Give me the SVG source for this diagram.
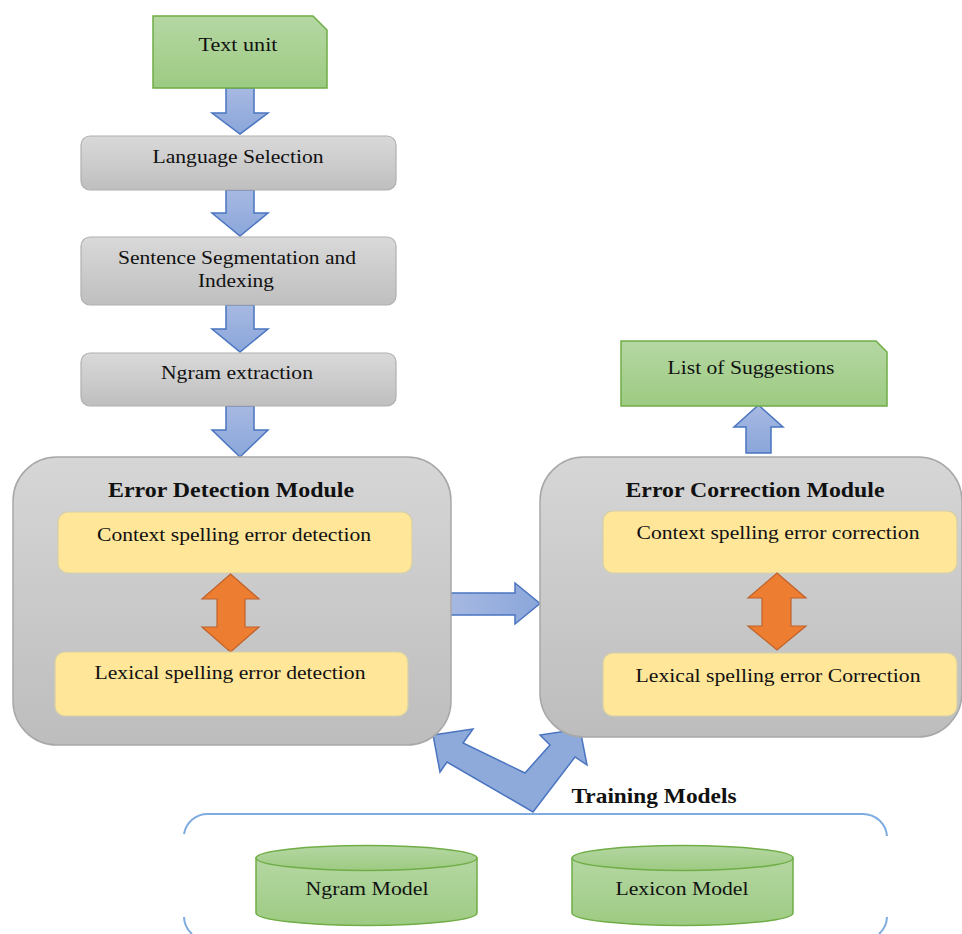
<svg xmlns="http://www.w3.org/2000/svg" width="962" height="934" viewBox="0 0 962 934">
<defs>
<linearGradient id="gGreen" x1="0" y1="0" x2="0" y2="1"><stop offset="0" stop-color="#b5d7a3"/><stop offset="1" stop-color="#9dcb82"/></linearGradient>
<linearGradient id="gGray" x1="0" y1="0" x2="0" y2="1"><stop offset="0" stop-color="#d9d9d9"/><stop offset="1" stop-color="#bfbfbf"/></linearGradient>
<linearGradient id="gMod" x1="0" y1="0" x2="0" y2="1"><stop offset="0" stop-color="#d6d6d6"/><stop offset="1" stop-color="#bdbdbd"/></linearGradient>
<linearGradient id="gBlueV" x1="0" y1="0" x2="0" y2="1"><stop offset="0" stop-color="#a7b9e2"/><stop offset="1" stop-color="#8aa6da"/></linearGradient>
<linearGradient id="gBlueH" x1="0" y1="0" x2="1" y2="0"><stop offset="0" stop-color="#a7b9e2"/><stop offset="1" stop-color="#8aa6da"/></linearGradient>
</defs>
<style>
.green{fill:url(#gGreen);stroke:#70ad47;stroke-width:1.5}
.gray{fill:url(#gGray);stroke:#b0b0b0;stroke-width:1.2}
.mod{fill:url(#gMod);stroke:#a8a8a8;stroke-width:1.5}
.yel{fill:#ffe699;stroke:#d6cfa8;stroke-width:1.2}
.blue{stroke:#4a74c0;stroke-width:1.5;stroke-linejoin:miter}
.orange{fill:#ed7d31;stroke:#c0622a;stroke-width:1.2}
.cont{fill:none;stroke:#7eabe0;stroke-width:2}
text{font-family:"Liberation Serif","Times New Roman",serif;fill:#111;text-anchor:middle}
.t{font-size:19px}
.b{font-size:21px;font-weight:bold}
</style>

<g id="connectors">
<polygon class="blue" fill="url(#gBlueV)" points="226,88 254,88 254,113 268,113 240,134 212,113 226,113"/>
<polygon class="blue" fill="url(#gBlueV)" points="226,190 254,190 254,213 268,213 240,236 212,213 226,213"/>
<polygon class="blue" fill="url(#gBlueV)" points="226,305 254,305 254,329 268,329 240,352 212,329 226,329"/>
<polygon class="blue" fill="url(#gBlueV)" points="226,406 254,406 254,430 268,430 240,457 212,430 226,430"/>
<polygon class="blue" fill="url(#gBlueV)" points="746,453 771,453 771,427 783,427 758.5,405 734,427 746,427"/>
<polygon class="blue" fill="url(#gBlueH)" points="448,593 515,593 515,583 540,603.5 515,624 515,615 448,615"/>
<polygon class="blue" fill="#8eaadb" points="433,735 473,729 463,743 525,773 550,745 540,735 580,729 587,765 575,757 533,812 447,762 440,772"/>
</g>

<g id="text-unit">
<polygon class="green" points="153,16 313,16 327,30 327,88 153,88"/>
<text class="t" x="238" y="51" textLength="79" lengthAdjust="spacingAndGlyphs">Text unit</text>
</g>

<g id="language-selection">
<rect class="gray" x="81" y="136" width="315" height="54" rx="9"/>
<text class="t" x="238" y="163" textLength="171" lengthAdjust="spacingAndGlyphs">Language Selection</text>
</g>

<g id="sentence-segmentation">
<rect class="gray" x="81" y="237" width="315" height="68" rx="9"/>
<text class="t" x="237" y="264" textLength="238" lengthAdjust="spacingAndGlyphs">Sentence Segmentation and</text>
<text class="t" x="236" y="287" textLength="76" lengthAdjust="spacingAndGlyphs">Indexing</text>
</g>

<g id="ngram-extraction">
<rect class="gray" x="81" y="353" width="315" height="53" rx="9"/>
<text class="t" x="237" y="379" textLength="152" lengthAdjust="spacingAndGlyphs">Ngram extraction</text>
</g>

<g id="error-detection-module">
<rect class="mod" x="13" y="457" width="438" height="288" rx="44"/>
<text class="b" x="231" y="497" textLength="246" lengthAdjust="spacingAndGlyphs">Error Detection Module</text>
<g id="context-detection">
<rect class="yel" x="58" y="512" width="354" height="61" rx="10"/>
<text class="t" x="234" y="541" textLength="274" lengthAdjust="spacingAndGlyphs">Context spelling error detection</text>
</g>
<polygon class="orange" points="230.5,574 259,599 245,599 245,627 259,627 230.5,652 202,627 217,627 217,599 202,599"/>
<g id="lexical-detection">
<rect class="yel" x="55" y="652" width="353" height="64" rx="10"/>
<text class="t" x="230" y="679" textLength="271" lengthAdjust="spacingAndGlyphs">Lexical spelling error detection</text>
</g>
</g>

<g id="list-of-suggestions">
<polygon class="green" points="621,341 876,341 887,352 887,406 621,406"/>
<text class="t" x="751" y="374" textLength="167" lengthAdjust="spacingAndGlyphs">List of Suggestions</text>
</g>

<g id="error-correction-module">
<rect class="mod" x="540" y="457" width="422" height="280" rx="44"/>
<text class="b" x="755" y="497" textLength="259" lengthAdjust="spacingAndGlyphs">Error Correction Module</text>
<g id="context-correction">
<rect class="yel" x="603" y="511" width="354" height="62" rx="10"/>
<text class="t" x="778" y="539" textLength="283" lengthAdjust="spacingAndGlyphs">Context spelling error correction</text>
</g>
<polygon class="orange" points="777,573 806,598 791,598 791,626 806,626 777,650 748,626 762,626 762,598 748,598"/>
<g id="lexical-correction">
<rect class="yel" x="603" y="653" width="354" height="63" rx="10"/>
<text class="t" x="778" y="682" textLength="285" lengthAdjust="spacingAndGlyphs">Lexical spelling error Correction</text>
</g>
</g>

<g id="training-models">
<text class="b" x="654" y="803" textLength="165" lengthAdjust="spacingAndGlyphs">Training Models</text>
<path class="cont" d="M184,834 A24,24 0 0 1 208,814 L863,814 A24,24 0 0 1 887,836"/>
<path class="cont" d="M184,917 A24,24 0 0 0 192,934"/>
<path class="cont" d="M887,917 A24,24 0 0 1 879,934"/>
</g>

<g id="ngram-model">
<path class="green" d="M256,858 L256,913 A110.5,12.5 0 0 0 477,913 L477,858 Z"/>
<ellipse class="green" cx="366.5" cy="858" rx="110.5" ry="12.5"/>
<text class="t" x="367" y="895" textLength="123" lengthAdjust="spacingAndGlyphs">Ngram Model</text>
</g>

<g id="lexicon-model">
<path class="green" d="M572,858 L572,913 A110.5,12.5 0 0 0 793,913 L793,858 Z"/>
<ellipse class="green" cx="682.5" cy="858" rx="110.5" ry="12.5"/>
<text class="t" x="682" y="895" textLength="133" lengthAdjust="spacingAndGlyphs">Lexicon Model</text>
</g>
</svg>
